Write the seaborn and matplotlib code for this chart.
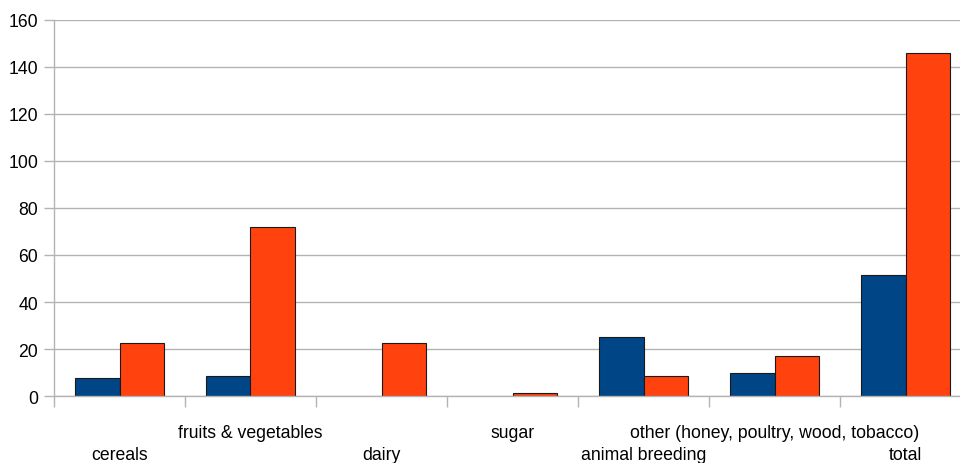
import matplotlib
matplotlib.use("Agg")
import matplotlib.pyplot as plt
import numpy as np
import pandas as pd
import seaborn as sns

categories = ["cereals", "fruits & vegetables", "dairy", "sugar",
              "animal breeding", "other (honey, poultry, wood, tobacco)", "total"]
series_names = ["A", "B"]
series_a = [7.8, 8.6, 0.0, 0.0, 25.0, 10.0, 51.6]
series_b = [22.7, 72.0, 22.7, 1.5, 8.6, 17.1, 145.8]
y_ticks = [0, 20, 40, 60, 80, 100, 120, 140, 160]

df = pd.DataFrame({
    "category": categories * 2,
    "series": [series_names[0]] * len(categories) + [series_names[1]] * len(categories),
    "value": series_a + series_b,
})

sns.set_style("white")
plt.rcParams["font.family"] = ["Liberation Sans", "DejaVu Sans"]
label_size = 12.7

fig = plt.figure(figsize=(9.6, 4.64), dpi=100)
ax = fig.add_axes([54 / 960, 66.7 / 464, 917 / 960, 376.8 / 464])

grid_color = "#b3b3b3"
ax.set_axisbelow(True)
ax.yaxis.grid(True, color=grid_color, linewidth=1.0)

sns.barplot(data=df, x="category", y="value", hue="series", order=categories,
            hue_order=series_names, palette=["#004586", "#ff420e"],
            width=0.672, edgecolor="#1a1a1a", linewidth=0.8, saturation=1,
            legend=False, ax=ax)

# empty bars should not leave an outline on the baseline
for patch in ax.patches:
    if patch.get_height() == 0:
        patch.set_linewidth(0)

ax.set_ylim(0, 160)
ax.set_xlim(-0.5, len(categories) - 0.5)
ax.set_yticks(y_ticks)
ax.set_yticklabels([str(v) for v in y_ticks], fontsize=label_size, color="#000000")
ax.tick_params(axis="y", length=7.2, width=1.0, color=grid_color, pad=4.3, left=True)

# category boundaries as tick marks, names at the centres in two staggered rows
ax.set_xticks(np.arange(-0.5, len(categories)), minor=True)
ax.tick_params(axis="x", which="minor", length=8, width=1.0, color=grid_color, bottom=True)
ax.set_xticks(np.arange(len(categories)))
ax.set_xticklabels(categories, fontsize=label_size, color="#000000")
ax.tick_params(axis="x", which="major", length=0)
for i, tick in enumerate(ax.xaxis.get_major_ticks()):
    tick.set_pad(35.9 if i % 2 == 0 else 19.9)

ax.set_xlabel("")
ax.set_ylabel("")
for side in ["top", "right"]:
    ax.spines[side].set_visible(False)
for side in ["left", "bottom"]:
    ax.spines[side].set_color(grid_color)
    ax.spines[side].set_linewidth(1.0)

fig.savefig("out.png", dpi=100)
